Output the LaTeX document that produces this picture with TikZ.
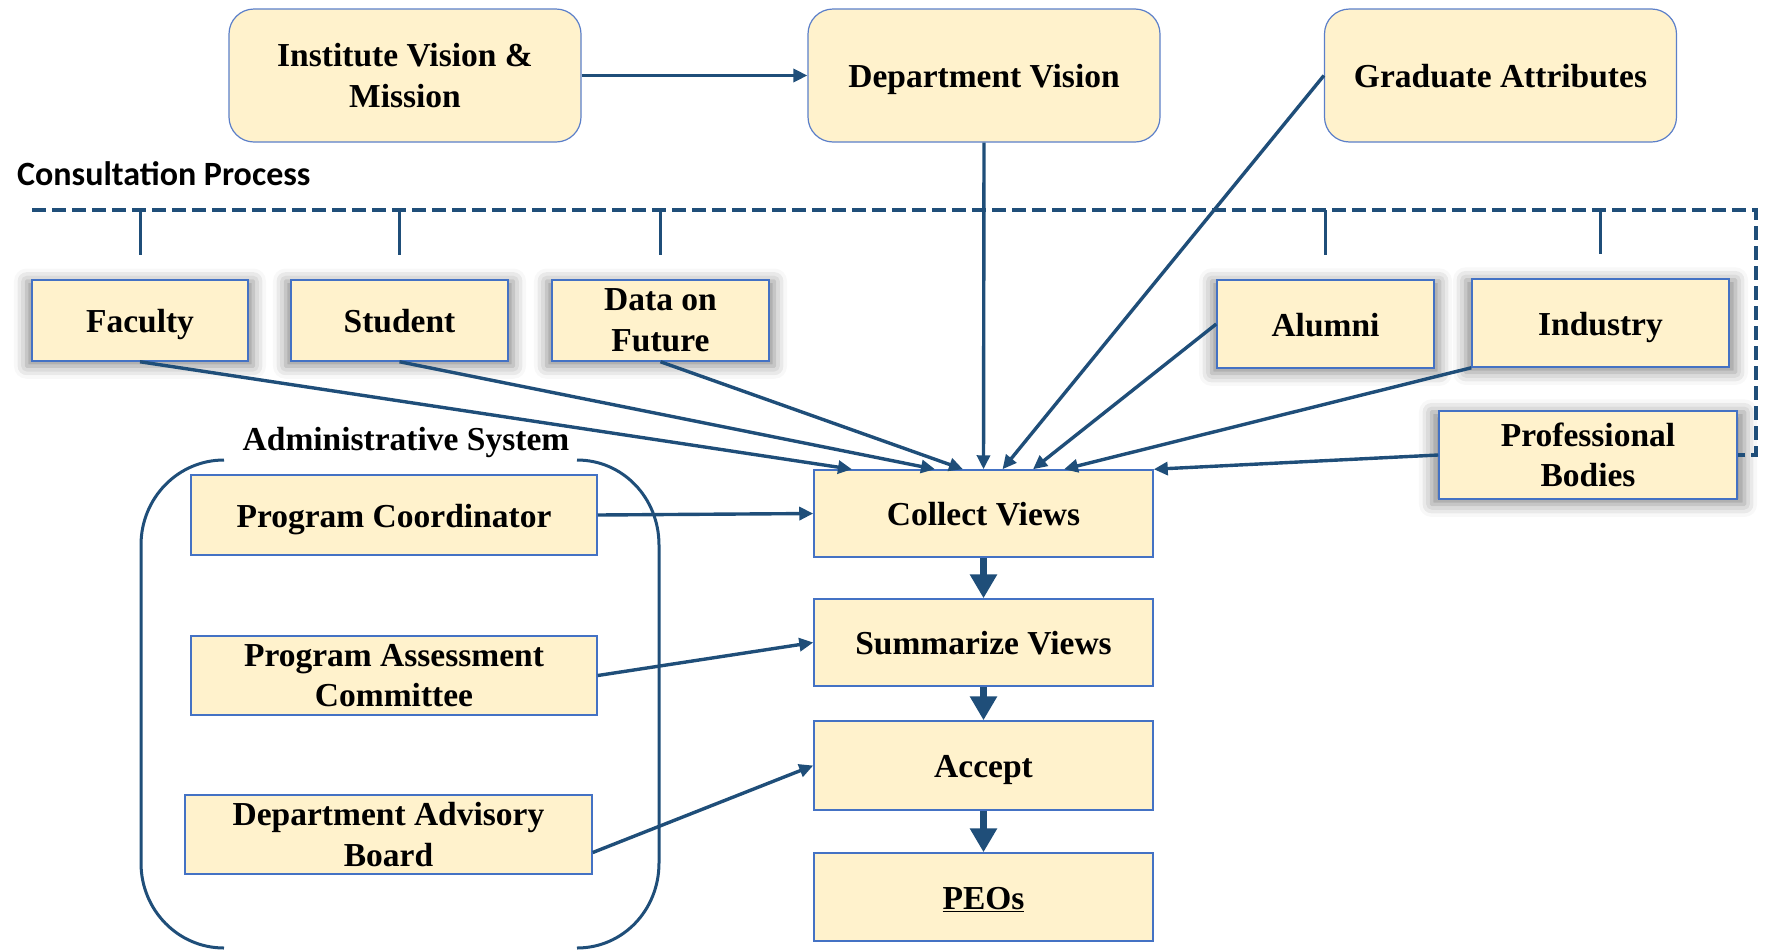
\documentclass[tikz,border=0pt]{standalone}
\usepackage{fontspec}
\setmainfont{Liberation Serif}
\newfontfamily\calibrifont{Carlito}
\usetikzlibrary{arrows.meta,shadows.blur}
\definecolor{boxfill}{HTML}{FFF2CC}
\definecolor{boxline}{HTML}{4472C4}
\definecolor{rboxline}{HTML}{5B7FC9}
\definecolor{conn}{HTML}{1F4E79}
\begin{document}
\begin{tikzpicture}[x=1pt,y=-1pt,
  txt/.style={font=\fontsize{33.5}{40.6}\selectfont\bfseries, align=center, text=black},
  one/.style={text height=30.8pt, text depth=6.7pt},
  rbox/.style={txt, draw=rboxline, line width=1.2pt, fill=boxfill, rounded corners=25pt, minimum width=352pt, minimum height=133pt, inner sep=0pt},
  sbox/.style={txt, draw=boxline, line width=1.5pt, fill=boxfill, inner sep=0pt},
  shbox/.style={sbox, blur shadow={shadow xshift=0pt, shadow yshift=-3pt, shadow blur radius=12pt, shadow opacity=45, shadow scale=1.05}},
  arr/.style={draw=conn, line width=3.4pt, -{Triangle[length=14pt,width=13pt]}},
  bigarr/.style={draw=conn, line width=6.5pt, -{Triangle[length=24pt,width=26pt]}},
  tickline/.style={draw=conn, line width=3pt},
  bracketline/.style={draw=conn, line width=3pt},
  dline/.style={draw=conn, line width=3.5pt, dash pattern=on 14pt off 6pt}
]
\useasboundingbox (0,0) rectangle (1770,951);

% top boxes
\node[rbox] (inst) at (405,75.5) {Institute Vision \&\\Mission};
\node[rbox, one] (dv) at (984,75.5) {Department Vision};
\node[rbox, one] (ga) at (1500.5,75.5) {Graduate Attributes};

% consultation label
\node[font=\calibrifont\bfseries\fontsize{34}{40}\selectfont, anchor=west, inner sep=0pt] (cp) at (17,174) {Consultation Process};

% consultation boxes
\node[shbox, one, minimum width=216pt, minimum height=81pt] (fac) at (140,320.5) {Faculty};
\node[shbox, one, minimum width=217pt, minimum height=81pt] (stu) at (399.5,320.5) {Student};
\node[shbox, minimum width=217pt, minimum height=81pt] (dof) at (660.5,320.5) {Data on\\Future};
\node[shbox, one, minimum width=217pt, minimum height=88pt] (alu) at (1325.5,324) {Alumni};
\node[shbox, one, minimum width=257pt, minimum height=88pt] (ind) at (1600.5,323) {Industry};
\node[shbox, minimum width=298pt, minimum height=88pt] (pb) at (1588,455) {Professional\\Bodies};

% process column
\node[sbox, one, minimum width=339pt, minimum height=87pt] (cv) at (983.5,513.5) {Collect Views};
\node[sbox, one, minimum width=339pt, minimum height=87pt] (sv) at (983.5,642.5) {Summarize Views};
\node[sbox, one, minimum width=339pt, minimum height=89pt] (acc) at (983.5,765.5) {Accept};
\node[sbox, one, minimum width=339pt, minimum height=88pt] (peo) at (983.5,897) {\underline{PEOs}};

% administrative system
\node[sbox, one, minimum width=406pt, minimum height=80pt] (pc) at (394,515) {Program Coordinator};
\node[sbox, minimum width=406pt, minimum height=79pt] (pac) at (394,675.5) {Program Assessment\\Committee};
\node[sbox, minimum width=407pt, minimum height=79pt] (dab) at (388.5,834.5) {Department Advisory\\Board};
\node[txt, one, inner sep=0pt] (adm) at (406,438) {Administrative System};

\draw[bracketline] (224,460) .. controls (178,460) and (141,498) .. (141,545) -- (141,863) .. controls (141,910) and (178,948) .. (224,948);
\draw[bracketline] (577,460) .. controls (623,460) and (659,498) .. (659,545) -- (659,863) .. controls (659,910) and (623,948) .. (577,948);

% dashed consultation line
\coordinate (dl) at (32,210);
\coordinate (dr) at (1756,210);
\draw[dline] (dl) -- (dr) |- (pb.east);
\foreach \b in {fac,stu,dof,alu,ind}{
  \draw[tickline] (\b.north |- dl) -- ([yshift=24pt]\b.north);
}

% connectors
\draw[arr] (inst) -- (dv);
\draw[arr] (dv.south) -- (cv.north);
\draw[arr] (ga.west) -- ([xshift=19pt]cv.north);
\draw[arr] (fac.south) -- ([xshift=-131.5pt]cv.north);
\draw[arr] (stu.south) -- ([xshift=-48.5pt]cv.north);
\draw[arr] (dof.south) -- ([xshift=-20.5pt]cv.north);
\draw[arr] (alu.west) -- ([xshift=49.5pt]cv.north);
\draw[arr] (ind.south west) -- ([xshift=80.5pt]cv.north);
\draw[arr] (pb.west) -- (cv.north east);
\draw[arr] (pc.east) -- (cv.west);
\draw[arr] (pac.east) -- (sv.west);
\draw[arr] ([yshift=-18pt]dab.east) -- (acc.west);

\draw[bigarr] (cv) -- (sv);
\draw[bigarr] (sv) -- (acc);
\draw[bigarr] (acc) -- (peo);
\end{tikzpicture}
\end{document}
